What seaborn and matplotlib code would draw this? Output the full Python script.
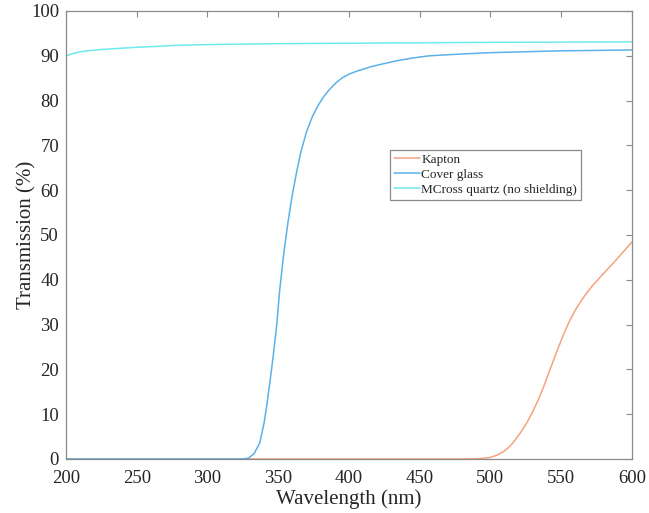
import matplotlib
matplotlib.use("Agg")
import matplotlib.pyplot as plt
import seaborn as sns
import pandas as pd

# Transmission curves (wavelength in nm, transmission in %)
kapton_nm = [200, 300, 400, 480, 490, 495, 500, 505, 510, 514, 518, 522, 526, 530,
             534, 538, 542, 547, 552, 556, 560, 564, 568, 572, 576, 580, 585, 590, 595, 600]
kapton_pct = [0.0, 0.0, 0.0, 0.0, 0.05, 0.15, 0.35, 0.9, 1.8, 2.9, 4.4, 6.2, 8.2, 10.6,
              13.3, 16.4, 19.8, 24.0, 28.0, 30.8, 33.2, 35.2, 37.0, 38.6, 40.0, 41.4,
              43.1, 44.8, 46.6, 48.4]

glass_nm = [200, 325, 329, 333, 337, 340, 342, 344.5, 346.5, 349, 351, 354, 357, 360,
            363, 366, 370, 374, 378, 382, 386, 391, 395, 400, 405, 410, 415, 420, 427,
            434, 445, 457, 480, 500, 550, 600]
glass_pct = [0.0, 0.0, 0.2, 1.2, 3.6, 8.0, 12.0, 18.0, 23.0, 30.0, 37.5, 46.0, 53.0, 59.0,
             64.0, 68.5, 73.0, 76.3, 78.8, 80.8, 82.4, 84.0, 85.0, 85.9, 86.5, 87.0, 87.5,
             87.9, 88.4, 88.9, 89.5, 90.0, 90.4, 90.7, 91.1, 91.3]

quartz_nm = [200, 205, 210, 218, 225, 235, 250, 265, 275, 300, 325, 350, 400, 450, 500, 550, 600]
quartz_pct = [90.0, 90.5, 90.9, 91.2, 91.4, 91.6, 91.9, 92.1, 92.3, 92.5, 92.6, 92.7, 92.8,
              92.9, 93.0, 93.05, 93.1]

series_names = ["Kapton", "Cover glass", "MCross quartz (no shielding)"]
series_colors = ["#F5A27F", "#5BB1E8", "#6FEAEF"]

x_ticks = [200, 250, 300, 350, 400, 450, 500, 550, 600]
y_ticks = [0, 10, 20, 30, 40, 50, 60, 70, 80, 90, 100]

sns.set_theme(style="white")
plt.rcParams["font.family"] = ["Liberation Serif", "DejaVu Serif"]

fig = plt.figure(figsize=(6.49, 5.13), dpi=100)
ax = fig.add_axes([0.1017, 0.1053, 0.8718, 0.8733])

frames = [
    pd.DataFrame({"nm": kapton_nm, "pct": kapton_pct}),
    pd.DataFrame({"nm": glass_nm, "pct": glass_pct}),
    pd.DataFrame({"nm": quartz_nm, "pct": quartz_pct}),
]
for df, name, col in zip(frames, series_names, series_colors):
    sns.lineplot(data=df, x="nm", y="pct", ax=ax, color=col, label=name,
                 linewidth=1.1, sort=False)

ax.set_xlim(200, 600)
ax.set_ylim(0, 100)
ax.set_xticks(x_ticks)
ax.set_yticks(y_ticks)

ax.set_xlabel("Wavelength (nm)", fontsize=15, color="#262626")
ax.set_ylabel("Transmission (%)", fontsize=15, color="#262626")
ax.xaxis.set_label_coords(0.5, -0.068)
ax.yaxis.set_label_coords(-0.052, 0.5)
ax.tick_params(direction="in", top=True, right=True, length=4, width=0.8,
               color="#8a8a8a", labelsize=13.5, labelcolor="#262626")
ax.tick_params(axis="x", pad=8)
ax.tick_params(axis="y", pad=5)
for sp in ax.spines.values():
    sp.set_color("#8a8a8a")
    sp.set_linewidth(0.9)

leg = ax.legend(loc="upper left", bbox_to_anchor=(0.572, 0.690), borderaxespad=0,
                fontsize=9.5, frameon=True, fancybox=False, handlelength=2.0,
                handletextpad=0.1, labelspacing=0.2, borderpad=0.3)
leg.get_frame().set_edgecolor("#6e6e6e")
leg.get_frame().set_linewidth(0.9)
for t in leg.get_texts():
    t.set_color("#262626")

fig.savefig("out.png", dpi=100)
